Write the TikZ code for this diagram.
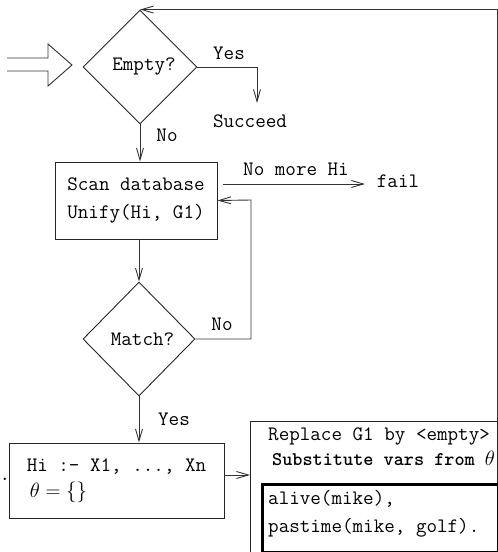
\documentclass[tikz,border=0pt]{standalone}
\usepackage{fontspec}
\usetikzlibrary{shapes.geometric,arrows.meta}
\newcommand\flowfont{\ttfamily\fontsize{20.5}{28}\selectfont}
\begin{document}
\begin{tikzpicture}[x=1pt,y=-1pt,
  every node/.style={font=\flowfont, text=black},
  line/.style={draw=black!80, line width=0.9pt},
  flow/.style={line, -{Straight Barb[length=12pt,width=7pt]}},
  decision/.style={diamond, draw=black!85, line width=0.9pt, inner sep=0pt,
                   minimum width=114pt, minimum height=114pt},
  box/.style={rectangle, draw=black!85, line width=0.9pt, inner sep=0pt},
  lbl/.style={anchor=mid, inner sep=0pt},
  txt/.style={anchor=mid west, inner sep=0pt}]
\useasboundingbox (0,0) rectangle (498,552);

% entry arrow
\draw[line] (7,58) -- (48,58) -- (48,44) -- (72,65) -- (48,86) -- (48,71) -- (7,71);

% first test: empty goal list?
\node[decision] (empty) at (140,67) {\hspace*{8pt}Empty?};
\coordinate (yesdrop) at (257,103);
\draw[flow] (empty.east) -| (yesdrop);
\node[lbl] (yes1) at (229,57) {Yes};
\node[lbl] (succeed) at (250,125) {Succeed};

% database scan
\node[box, minimum width=162pt, minimum height=77pt, align=center] (scan) at (136,200.5)
  {Scan database\\Unify(Hi, G1)};
\draw[flow] (empty.south) -- (empty.south |- scan.north);
\node[lbl] (no1) at (167,139) {No};

\node[lbl] (fail) at (398,185) {fail};
\draw[flow] ([shift={(6,-16.5)}]scan.east) -- (365,184);
\node[lbl] (nomore) at (296,173) {No more Hi};

% match test
\node[decision, minimum width=112pt] (match) at (139,339) {\hspace*{7pt}Match?};
\draw[flow] (match.north |- scan.south) -- (match.north);
\coordinate (loopcorner) at (251,200);
\draw[flow] (match.east) -| (loopcorner) -- (scan.east);
\node[lbl] (no2) at (222,328) {No};

% clause head and body
\node[box, minimum width=215pt, minimum height=75pt, align=left] (hi) at (116.5,480.5)
  {Hi :- X1, ..., Xn\\[-2pt]\hspace{3pt}$\theta = \{\}$};
\draw[flow] (match.south) -- (match.south |- hi.north);
\node[lbl] (yes2) at (174,423) {Yes};
\node[anchor=base, inner sep=0pt] (dot) at (5,480) {.};

% resolvent
\node[box, anchor=north west, minimum width=247pt, minimum height=140pt] (subst) at (250,421) {};
\draw[flow] ([yshift=5.5pt]hi.east) -- ([yshift=5.5pt]hi.east -| subst.west);
\node[txt] (replace) at (268,438) {Replace G1 by <empty>};
\node[txt, font=\ttfamily\bfseries\fontsize{19.3}{28}\selectfont] (substitute) at (272,463)
  {Substitute vars from $\theta$};
\node[anchor=north west, draw=black, line width=3pt, inner sep=0pt,
      minimum width=236pt, minimum height=68pt] (facts) at (261,483) {};
\node[txt] (alive) at (268,502) {alive(mike),};
\node[txt] (pastime) at (268,530) {pastime(mike, golf).};

% back to the first test
\draw[flow] (subst.north east) |- (empty.north);
\end{tikzpicture}
\end{document}
